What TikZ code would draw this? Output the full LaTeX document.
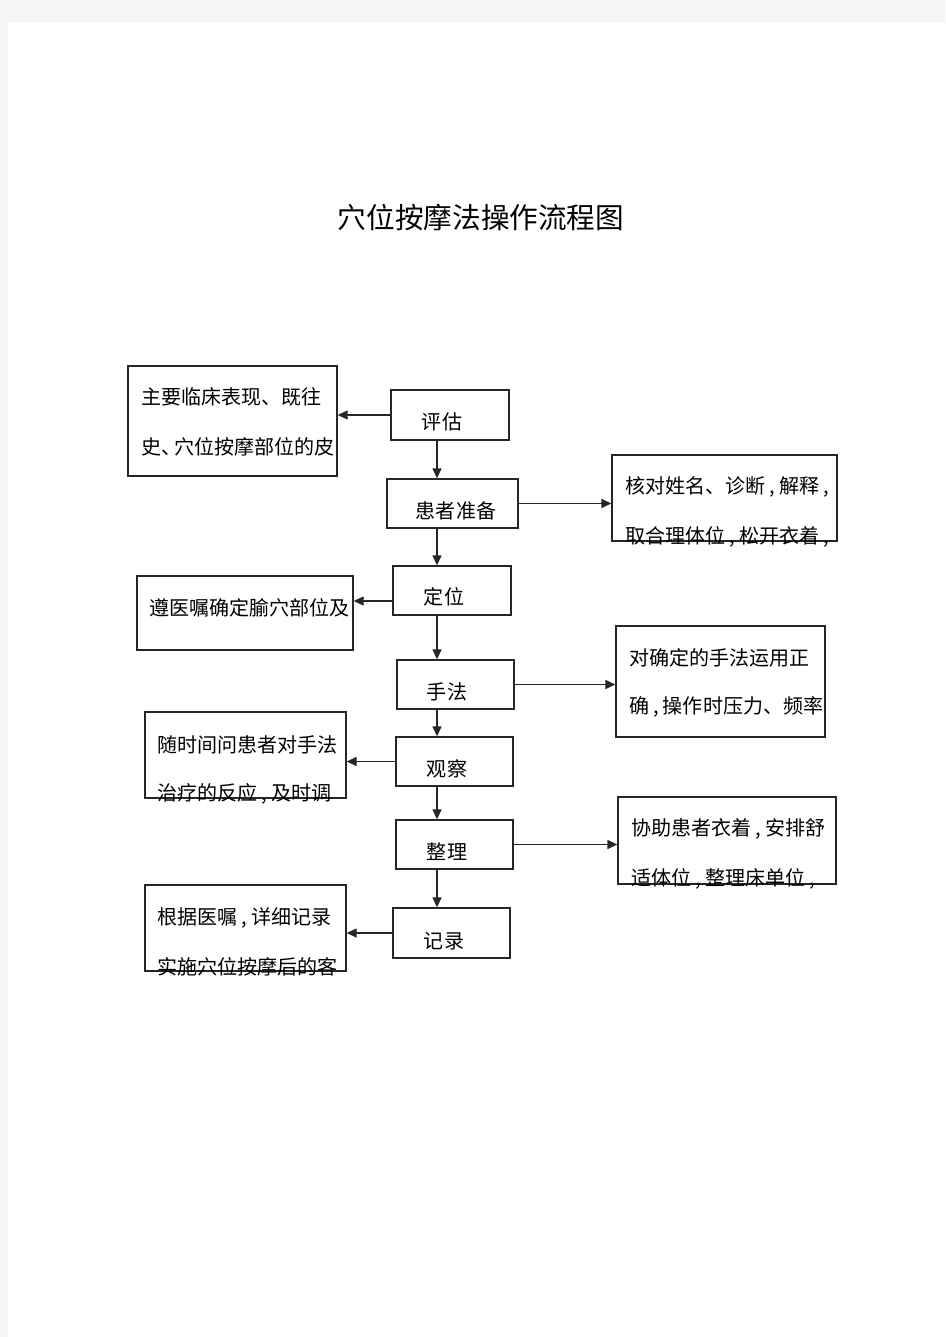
\documentclass[tikz,border=0pt]{standalone}
\usepackage{fontspec}
\setmainfont{Noto Sans CJK SC}
\usetikzlibrary{arrows.meta}
\tikzset{stepbox/.style={rectangle,draw=black!85,line width=0.75pt,inner sep=0pt}}
\tikzset{sidebox/.style={rectangle,draw=black!85,line width=0.75pt,inner sep=0pt}}
\tikzset{txt/.style={inner sep=0pt,font=\fontsize{11.4pt}{13pt}\selectfont}}
\tikzset{ltxt/.style={txt,anchor=west}}
\tikzset{arr/.style={line width=0.75pt,black!85,-{Triangle[length=2mm,width=1.8mm]}}}
\newcommand{\cma}{\kern.2em,\kern.2em}

\begin{document}
\begin{tikzpicture}[x=0.2mm,y=-0.2mm]
% page
\fill[black!4] (0,0) rectangle (945,1337);
\fill[white] (8,22) rectangle (945,1337);

\node[inner sep=0pt,font=\fontsize{16.3pt}{18pt}\selectfont] (title) at (481,218) {穴位按摩法操作流程图};

% main steps
\node[stepbox,minimum width=23.6mm,minimum height=10mm] (eval) at (450,415) {};
\node[stepbox,minimum width=26.2mm,minimum height=9.8mm] (prep) at (452.5,503.5) {};
\node[stepbox,minimum width=23.6mm,minimum height=9.8mm] (locate) at (452,590.5) {};
\node[stepbox,minimum width=23.4mm,minimum height=9.8mm] (method) at (455.5,684.5) {};
\node[stepbox,minimum width=23.4mm,minimum height=9.8mm] (watch) at (454.5,761.5) {};
\node[stepbox,minimum width=23.4mm,minimum height=9.8mm] (tidy) at (454.5,844.5) {};
\node[stepbox,minimum width=23.4mm,minimum height=10mm] (record) at (451.5,933) {};

\node[txt] (evalT) at (442,422) {评估};
\node[txt] (prepT) at (456,511) {患者准备};
\node[txt] (locateT) at (444,597) {定位};
\node[txt] (methodT) at (447,692) {手法};
\node[txt] (watchT) at (447,769) {观察};
\node[txt] (tidyT) at (447,852) {整理};
\node[txt] (recordT) at (444,941) {记录};

% side notes
\node[sidebox,minimum width=41.8mm,minimum height=22mm] (hist) at (232.5,421) {};
\node[sidebox,minimum width=45mm,minimum height=17.2mm] (check) at (724.5,498) {};
\node[sidebox,minimum width=43.2mm,minimum height=14.8mm] (order) at (245,613) {};
\node[sidebox,minimum width=41.8mm,minimum height=22.2mm] (force) at (720.5,681.5) {};
\node[sidebox,minimum width=40.2mm,minimum height=17.2mm] (react) at (245.5,755) {};
\node[sidebox,minimum width=43.6mm,minimum height=17.4mm] (dress) at (727,840.5) {};
\node[sidebox,minimum width=40.2mm,minimum height=17.2mm] (note) at (245.5,928) {};

\node[ltxt] (hist1) at (141,397) {主要临床表现、既往};
\node[ltxt] (hist2) at (141,447) {史、\kern-.35em穴位按摩部位的皮};
\node[ltxt] (check1) at (625,487) {核对姓名、诊断\cma 解释\cma};
\node[ltxt] (check2) at (625,537) {取合理体位\cma 松开衣着\cma};
\node[ltxt] (order1) at (149,608) {遵医嘱确定腧穴部位及};
\node[ltxt] (force1) at (629,658) {对确定的手法运用正};
\node[ltxt] (force2) at (629,707) {确\cma 操作时压力、频率};
\node[ltxt] (react1) at (157,745) {随时间问患者对手法};
\node[ltxt] (react2) at (157,794) {治疗的反应\cma 及时调};
\node[ltxt] (dress1) at (631,829) {协助患者衣着\cma 安排舒};
\node[ltxt] (dress2) at (631,879) {适体位\cma 整理床单位\cma};
\node[ltxt] (note1) at (157,918) {根据医嘱\cma 详细记录};
\node[ltxt] (note2) at (157,967) {实施穴位按摩后的客};

% connectors
\coordinate (spine) at (437,0);
\foreach \a/\b in {eval/prep,prep/locate,locate/method,method/watch,watch/tidy,tidy/record}{
  \draw[arr] (\a.south -| spine) -- (\b.north -| spine);
}
\foreach \a/\b in {eval/hist,watch/react,record/note}{
  \draw[arr] (\a.west) -- (\a.west -| \b.east);
}
\foreach \a/\b in {prep/check,method/force,tidy/dress}{
  \draw[arr] (\a.east) -- (\a.east -| \b.west);
}
\draw[arr] ([yshift=-2.1mm]locate.west) coordinate (L) -- (L -| order.east);

\end{tikzpicture}
\end{document}
